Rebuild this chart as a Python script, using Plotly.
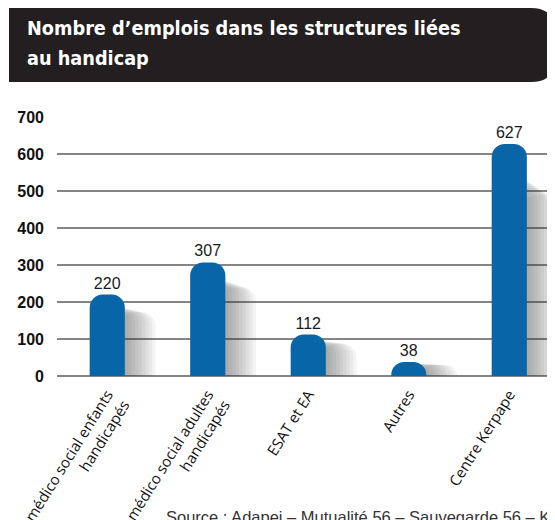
import plotly.graph_objects as go

# data
categories = [
    "médico social enfants<br>handicapés",
    "médico social adultes<br>handicapés",
    "ESAT et EA",
    "Autres",
    "Centre Kerpape",
]
emplois = [220, 307, 112, 38, 627]
y_ticks = [0, 100, 200, 300, 400, 500, 600, 700]

title_lines = ["Nombre d’emplois dans les structures liées", "au handicap"]
source_text = "Source : Adapei – Mutualité 56 – Sauvegarde 56 – Kerpape"

# the page body has an 8px margin, so the figure sits at (8, 8) in the window
OFF = 8
W, H = 555 - OFF, 520 - OFF
ML, MR, MT, MB = 57 - OFF, 0, 117 - OFF, H - (376 - OFF)
pw, ph = W - ML - MR, H - MT - MB


def px_x(x):
    # window pixel -> paper x
    return (x - OFF - ML) / pw


def px_y(y):
    # window pixel -> paper y
    return (H - MB - (y - OFF)) / ph


fig = go.Figure()

# soft shadow to the right of each bar (several faint layers)
for k in range(1, 10):
    fig.add_trace(go.Bar(
        x=categories,
        y=[v * (0.87 - 0.01 * k) for v in emplois],
        width=0.35,
        offset=-0.175 + 0.034 * k,
        marker=dict(color="rgba(60,60,60,0.055)", line_width=0, cornerradius=14),
        hoverinfo="skip",
        showlegend=False,
    ))

fig.add_trace(go.Bar(
    x=categories,
    y=emplois,
    width=0.35,
    offset=-0.175,
    marker=dict(color="#0866a8", line_width=0, cornerradius=13),
    text=emplois,
    textposition="outside",
    textfont=dict(family="Liberation Sans", size=16, color="#1a1a1a"),
    cliponaxis=False,
    showlegend=False,
))

# title banner with rounded right end
x0, x1 = px_x(9), px_x(555)
y0, y1 = px_y(82), px_y(8)
rx, ry = 24 / pw, 24 / ph
path = (f"M {x0},{y0} L {x0},{y1} L {x1 - rx},{y1} "
        f"Q {x1},{y1} {x1},{y1 - ry} L {x1},{y0 + ry} "
        f"Q {x1},{y0} {x1 - rx},{y0} Z")
fig.add_shape(type="path", path=path, xref="paper", yref="paper",
              fillcolor="#231f20", line_width=0, layer="above")

title_font = dict(family="DejaVu Sans Condensed, Liberation Sans Narrow, sans-serif",
                  size=19.7, color="white", weight="bold")
for i, line in enumerate(title_lines):
    fig.add_annotation(
        text=line, xref="paper", yref="paper",
        x=px_x(25), y=px_y(15 + 30 * i), xanchor="left", yanchor="top",
        align="left", showarrow=False, font=title_font,
    )

fig.add_annotation(
    text=source_text, xref="paper", yref="paper",
    x=px_x(164), y=px_y(506), xanchor="left", yanchor="top",
    align="left", showarrow=False,
    font=dict(family="Liberation Sans", size=16.5, color="#333333"),
)

fig.update_layout(
    width=W, height=H,
    margin=dict(l=ML, r=MR, t=MT, b=MB, pad=0, autoexpand=False),
    barmode="overlay",
    plot_bgcolor="white",
    paper_bgcolor="white",
    xaxis=dict(
        range=[-0.5, 4.455],
        automargin=False,
        tickangle=-58,
        showgrid=False,
        showline=False,
        zeroline=False,
        ticks="",
        ticklabelstandoff=6,
        tickfont=dict(family="Open Sans", size=15, color="#111111"),
    ),
    yaxis=dict(
        range=[0, 700],
        automargin=False,
        tickvals=y_ticks,
        showgrid=True,
        gridcolor="#858585",
        gridwidth=2,
        zeroline=True,
        zerolinecolor="#858585",
        zerolinewidth=2,
        ticks="",
        ticklabelstandoff=12,
        tickfont=dict(family="Liberation Sans", size=16, color="#111111", weight="bold"),
    ),
)

fig.write_html("out.html")
